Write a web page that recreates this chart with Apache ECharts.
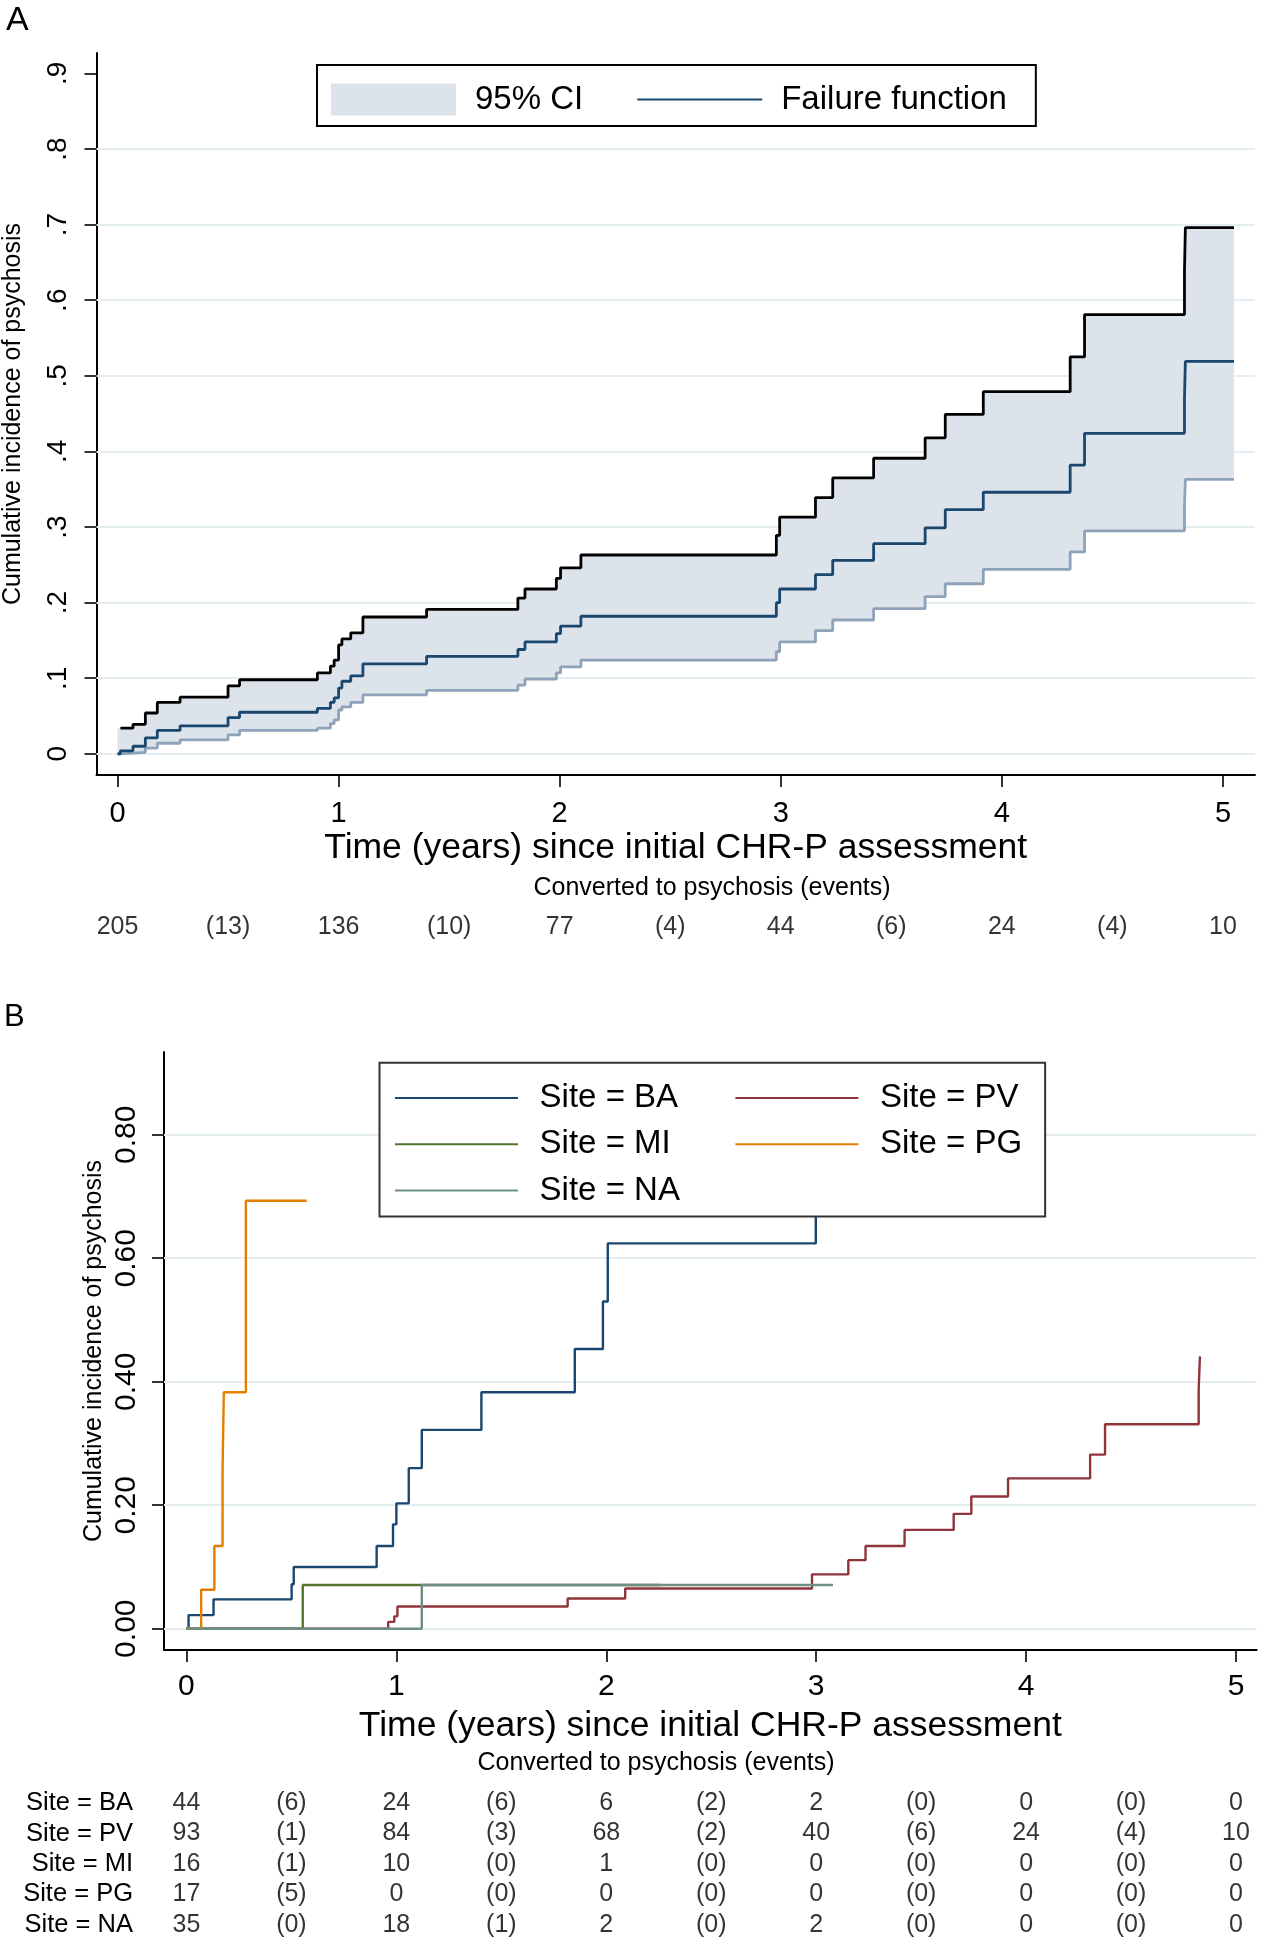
<!DOCTYPE html>
<html>
<head>
<meta charset="utf-8">
<script src="https://cdn.jsdelivr.net/npm/echarts@6/dist/echarts.min.js"></script>
<style>
html,body{margin:0;padding:0;background:#fff;}
#chart{width:1262px;height:1942px;}
</style>
</head>
<body>
<div id="chart"></div>
<script>
// ---------- Panel A data (Kaplan-Meier failure function with 95% CI) ----------
const timeA  = [0, 0.013, 0.07, 0.126, 0.18, 0.283, 0.5, 0.552, 0.904, 0.963, 0.98, 1.0, 1.015, 1.055, 1.11, 1.398, 1.811, 1.843, 1.985, 2.004, 2.096, 2.98, 2.995, 3.157, 3.235, 3.42, 3.653, 3.744, 3.916, 4.309, 4.374, 4.826, 4.83, 5.05];
const upperA = [0.034, 0.034, 0.039, 0.054, 0.068, 0.075, 0.090, 0.098, 0.107, 0.116, 0.124, 0.144, 0.152, 0.160, 0.181, 0.191, 0.206, 0.218, 0.232, 0.246, 0.263, 0.289, 0.313, 0.339, 0.365, 0.391, 0.418, 0.449, 0.479, 0.525, 0.581, 0.638, 0.696, 0.696];
const meanA  = [0, 0.004, 0.010, 0.021, 0.031, 0.037, 0.048, 0.055, 0.060, 0.068, 0.074, 0.087, 0.096, 0.103, 0.119, 0.129, 0.138, 0.148, 0.159, 0.169, 0.182, 0.200, 0.218, 0.237, 0.256, 0.278, 0.299, 0.323, 0.346, 0.382, 0.424, 0.470, 0.519, 0.519];
const lowerA = [0, 0.001, 0.002, 0.0075, 0.014, 0.0185, 0.025, 0.031, 0.034, 0.040, 0.045, 0.058, 0.062, 0.068, 0.078, 0.084, 0.091, 0.099, 0.107, 0.115, 0.124, 0.135, 0.148, 0.163, 0.177, 0.192, 0.208, 0.225, 0.244, 0.267, 0.295, 0.328, 0.363, 0.363];
const atRiskA = [205, 136, 77, 44, 24, 10];
const eventsA = [13, 10, 4, 6, 4];

// ---------- Panel B data (by site) ----------
const tBA = [0, 0.01, 0.129, 0.501, 0.511, 0.906, 0.984, 1.0, 1.059, 1.121, 1.405, 1.85, 1.984, 2.007, 2.998, 3.3];
const yBA = [0, 0.022, 0.0475, 0.072, 0.100, 0.134, 0.169, 0.203, 0.260, 0.322, 0.383, 0.453, 0.530, 0.624, 0.81, 0.81];
const tPV = [0, 0.961, 0.99, 1.005, 1.816, 2.09, 2.98, 3.153, 3.235, 3.421, 3.655, 3.739, 3.914, 4.305, 4.376, 4.822, 4.828];
const yPV = [0, 0.011, 0.020, 0.036, 0.049, 0.065, 0.088, 0.111, 0.134, 0.160, 0.186, 0.214, 0.2435, 0.282, 0.331, 0.387, 0.441];
const tMI = [0, 0.554, 2.26];
const yMI = [0, 0.0707, 0.0707];
const tPG = [0, 0.07, 0.133, 0.172, 0.178, 0.283, 0.573];
const yPG = [0, 0.063, 0.134, 0.26, 0.383, 0.693, 0.693];
const tNA = [0, 1.121, 3.08];
const yNA = [0, 0.0707, 0.0707];

const siteNames = ['Site = BA', 'Site = PV', 'Site = MI', 'Site = PG', 'Site = NA'];
const atRiskB = [
  [44, 24, 6, 2, 0, 0],
  [93, 84, 68, 40, 24, 10],
  [16, 10, 1, 0, 0, 0],
  [17, 0, 0, 0, 0, 0],
  [35, 18, 2, 2, 0, 0]
];
const eventsB = [
  [6, 6, 2, 0, 0],
  [1, 3, 2, 6, 4],
  [1, 0, 0, 0, 0],
  [5, 0, 0, 0, 0],
  [0, 1, 0, 0, 0]
];

// ---------- Axis ticks ----------
const xTicks = [0, 1, 2, 3, 4, 5];
const yTicksA = [0, 0.1, 0.2, 0.3, 0.4, 0.5, 0.6, 0.7, 0.8, 0.9];
const yTickLabelsA = ['0', '.1', '.2', '.3', '.4', '.5', '.6', '.7', '.8', '.9'];
const gridLinesA = [0, 0.1, 0.2, 0.3, 0.4, 0.5, 0.6, 0.7, 0.8];
const yTicksB = [0, 0.2, 0.4, 0.6, 0.8];
const yTickLabelsB = ['0.00', '0.20', '0.40', '0.60', '0.80'];

// ---------- styling ----------
const FONT = "'Liberation Sans', Arial, Helvetica, sans-serif";
const C_NAVY = '#1a476f', C_MAROON = '#90353b', C_GREEN = '#55752f', C_ORANGE = '#e37e00', C_TEAL = '#6e8e84';
const C_GRID = '#e4eef1';
const C_BAND = '#dde3ea';
const C_LOWER = '#8ea3b9';

function pairs(t, y) { return t.map((v, i) => [v, y[i]]); }
function labelFor(ticks, labels) {
  return function (v) {
    for (let i = 0; i < ticks.length; i++) if (Math.abs(ticks[i] - v) < 1e-6) return labels[i];
    return '';
  };
}
function tableRow(row, risk, ev) {
  const out = [];
  risk.forEach((n, i) => out.push([i, row, String(n)]));
  ev.forEach((n, i) => out.push([i + 0.5, row, '(' + n + ')']));
  return out;
}

const axisLineStyle = { show: true, onZero: false, lineStyle: { color: '#000', width: 2 } };
const tickStyle = (vals) => ({ show: true, length: 12, customValues: vals, lineStyle: { color: '#000', width: 1.6 } });

const chart = echarts.init(document.getElementById('chart'), null, { renderer: 'canvas' });

const tableAData = tableRow(0, atRiskA, eventsA);
let tableBData = [];
siteNames.forEach((s, r) => { tableBData = tableBData.concat(tableRow(r, atRiskB[r], eventsB[r])); });

const bSeriesDefs = [
  { name: siteNames[0], t: tBA, y: yBA, c: C_NAVY },
  { name: siteNames[1], t: tPV, y: yPV, c: C_MAROON },
  { name: siteNames[2], t: tMI, y: yMI, c: C_GREEN },
  { name: siteNames[3], t: tPG, y: yPG, c: C_ORANGE },
  { name: siteNames[4], t: tNA, y: yNA, c: C_TEAL }
];

// stepped CI band polygon, drawn through the axis scales
function renderBand(params, api) {
  if (params.dataIndex !== 0) return null;
  const n = timeA.length, pts = [];
  for (let i = 0; i < n; i++) {
    pts.push(api.coord([timeA[i], upperA[i]]));
    if (i < n - 1) pts.push(api.coord([timeA[i + 1], upperA[i]]));
  }
  for (let i = n - 1; i >= 0; i--) {
    if (i < n - 1) pts.push(api.coord([timeA[i + 1], lowerA[i]]));
    pts.push(api.coord([timeA[i], lowerA[i]]));
  }
  return { type: 'polygon', shape: { points: pts }, style: { fill: C_BAND } };
}

const gridBase = { containLabel: false, outerBoundsMode: 'none' };

const option = {
  animation: false,
  backgroundColor: '#fff',
  textStyle: { fontFamily: FONT, color: '#000' },
  grid: [
    Object.assign({ left: 96.5, top: 53, width: 1158.5, height: 722 }, gridBase),
    Object.assign({ left: 96.5, top: 912, width: 1158.5, height: 30 }, gridBase),
    Object.assign({ left: 164, top: 1052, width: 1092.6, height: 598 }, gridBase),
    Object.assign({ left: 164, top: 1788, width: 1092.6, height: 152 }, gridBase)
  ],
  xAxis: [
    {
      gridIndex: 0, type: 'value', min: -0.095, max: 5.145,
      axisLine: axisLineStyle, axisTick: tickStyle(xTicks),
      axisLabel: { customValues: xTicks, fontSize: 29, margin: 24, color: '#000', fontFamily: FONT },
      splitLine: { show: false }, nameMoveOverlap: false,
      name: 'Time (years) since initial CHR-P assessment', nameLocation: 'middle', nameGap: 73,
      nameTextStyle: { fontSize: 35.5, verticalAlign: 'middle', color: '#000', fontFamily: FONT }
    },
    { gridIndex: 1, type: 'value', min: -0.095, max: 5.145, show: false },
    {
      gridIndex: 2, type: 'value', min: -0.107, max: 5.098,
      axisLine: axisLineStyle, axisTick: tickStyle(xTicks),
      axisLabel: { customValues: xTicks, fontSize: 30, margin: 22, color: '#000', fontFamily: FONT },
      splitLine: { show: false }, nameMoveOverlap: false,
      name: 'Time (years) since initial CHR-P assessment', nameLocation: 'middle', nameGap: 76,
      nameTextStyle: { fontSize: 35.5, verticalAlign: 'middle', color: '#000', fontFamily: FONT }
    },
    { gridIndex: 3, type: 'value', min: -0.107, max: 5.098, show: false }
  ],
  yAxis: [
    {
      gridIndex: 0, type: 'value', min: -0.028, max: 0.927,
      axisLine: axisLineStyle, axisTick: tickStyle(yTicksA),
      axisLabel: { customValues: yTicksA, rotate: 90, fontSize: 28, margin: 24, color: '#000', fontFamily: FONT,
        formatter: labelFor(yTicksA, yTickLabelsA) },
      splitLine: { show: false }, nameMoveOverlap: false,
      name: 'Cumulative incidence of psychosis', nameLocation: 'middle', nameGap: 83,
      nameTextStyle: { fontSize: 25, verticalAlign: 'middle', color: '#000', fontFamily: FONT }
    },
    { gridIndex: 1, type: 'category', data: [''], show: false },
    {
      gridIndex: 2, type: 'value', min: -0.0345, max: 0.934,
      axisLine: axisLineStyle, axisTick: tickStyle(yTicksB),
      axisLabel: { customValues: yTicksB, rotate: 90, fontSize: 30, margin: 22, color: '#000', fontFamily: FONT,
        formatter: labelFor(yTicksB, yTickLabelsB) },
      splitLine: { show: false }, nameMoveOverlap: false,
      name: 'Cumulative incidence of psychosis', nameLocation: 'middle', nameGap: 70,
      nameTextStyle: { fontSize: 25, verticalAlign: 'middle', color: '#000', fontFamily: FONT }
    },
    {
      gridIndex: 3, type: 'category', data: siteNames, inverse: true,
      axisLine: { show: false }, axisTick: { show: false }, splitLine: { show: false },
      axisLabel: { interval: 0, fontSize: 25.5, margin: 31, color: '#000', fontFamily: FONT }
    }
  ],
  legend: [
    {
      data: [
        { name: '95% CI', icon: 'rect', itemStyle: { color: C_BAND, borderWidth: 0, opacity: 1 } },
        { name: 'Failure function', itemStyle: { opacity: 0 } }
      ],
      left: 317, top: 65, orient: 'horizontal',
      padding: [15.5, 29, 7.5, 14],
      backgroundColor: '#fff', borderColor: '#000', borderWidth: 2,
      itemWidth: 125, itemHeight: 32, itemGap: 53, selectedMode: false,
      textStyle: { fontSize: 33, lineHeight: 38, padding: [0, 0, 0, 14], color: '#000', fontFamily: FONT }
    },
    {
      data: [
        { name: siteNames[0], textStyle: { width: 185 } },
        { name: siteNames[1], textStyle: { width: 140 } },
        { name: siteNames[2], textStyle: { width: 185 } },
        { name: siteNames[3], textStyle: { width: 140 } },
        { name: siteNames[4], textStyle: { width: 185 } }
      ],
      left: 379.5, top: 1062.7, width: 640, orient: 'horizontal',
      padding: [17, 23, 7.7, 14.5],
      backgroundColor: '#fff', borderColor: '#333', borderWidth: 2,
      itemWidth: 123, itemHeight: 14, itemGap: 9.8, selectedMode: false,
      itemStyle: { opacity: 0 },
      textStyle: { fontSize: 33, lineHeight: 36.5, padding: [0, 0, 0, 16.6], color: '#000', fontFamily: FONT }
    }
  ],
  graphic: [
    { type: 'text', left: 6, top: 4, style: { text: 'A', fontSize: 34, fill: '#000', fontFamily: FONT } },
    { type: 'text', left: 4, top: 1002, style: { text: 'B', fontSize: 31, fill: '#000', fontFamily: FONT } },
    { type: 'text', x: 712, y: 888, style: { text: 'Converted to psychosis (events)', fontSize: 25, fill: '#000', align: 'center', verticalAlign: 'middle', fontFamily: FONT } },
    { type: 'text', x: 656, y: 1763, style: { text: 'Converted to psychosis (events)', fontSize: 25, fill: '#000', align: 'center', verticalAlign: 'middle', fontFamily: FONT } }
  ],
  series: [
    // Panel A grid lines (below the band)
    {
      name: 'gridA', type: 'line', xAxisIndex: 0, yAxisIndex: 0,
      data: pairs(timeA, lowerA), symbol: 'none', lineStyle: { opacity: 0, width: 0 }, silent: true, z: 1,
      markLine: {
        silent: true, symbol: ['none', 'none'], z: 1, label: { show: false },
        lineStyle: { color: C_GRID, width: 2, type: 'solid' },
        data: gridLinesA.map(v => ({ yAxis: v }))
      }
    },
    // Panel A CI band
    {
      name: '95% CI', type: 'custom', xAxisIndex: 0, yAxisIndex: 0,
      data: [[timeA[0], lowerA[0]]], renderItem: renderBand,
      itemStyle: { color: C_BAND }, silent: true, z: 2
    },
    {
      name: 'Upper CI', type: 'line', xAxisIndex: 0, yAxisIndex: 0, step: 'end',
      data: pairs(timeA, upperA).slice(1), symbol: 'none',
      lineStyle: { color: '#000', width: 2.8 }, color: '#000', silent: true, z: 3
    },
    {
      name: 'Lower CI', type: 'line', xAxisIndex: 0, yAxisIndex: 0, step: 'end',
      data: pairs(timeA, lowerA), symbol: 'none',
      lineStyle: { color: C_LOWER, width: 2.8 }, color: C_LOWER, silent: true, z: 3
    },
    {
      name: 'Failure function', type: 'line', xAxisIndex: 0, yAxisIndex: 0, step: 'end',
      data: pairs(timeA, meanA), symbol: 'none',
      lineStyle: { color: C_NAVY, width: 2.8 }, color: C_NAVY, silent: true, z: 4
    },
    // Panel A risk table
    {
      name: 'tableA', type: 'scatter', xAxisIndex: 1, yAxisIndex: 1, data: tableAData,
      symbolSize: 0, silent: true,
      label: { show: true, position: 'inside', formatter: p => p.value[2], fontSize: 25, color: '#000', fontFamily: FONT }
    },
    // Panel B lines
    ...bSeriesDefs.map((d, i) => {
      const s = {
        name: d.name, type: 'line', xAxisIndex: 2, yAxisIndex: 2, step: 'end',
        data: pairs(d.t, d.y), symbol: 'none', color: d.c,
        lineStyle: { color: d.c, width: 2.4 }, silent: true, z: 3
      };
      if (i === 0) {
        s.markLine = {
          silent: true, symbol: ['none', 'none'], z: 1, label: { show: false },
          lineStyle: { color: C_GRID, width: 2, type: 'solid' },
          data: yTicksB.map(v => ({ yAxis: v }))
        };
      }
      return s;
    }),
    // Panel B risk table
    {
      name: 'tableB', type: 'scatter', xAxisIndex: 3, yAxisIndex: 3, data: tableBData,
      symbolSize: 0, silent: true,
      label: { show: true, position: 'inside', formatter: p => p.value[2], fontSize: 25, color: '#000', fontFamily: FONT }
    }
  ]
};

chart.setOption(option);
</script>
</body>
</html>
